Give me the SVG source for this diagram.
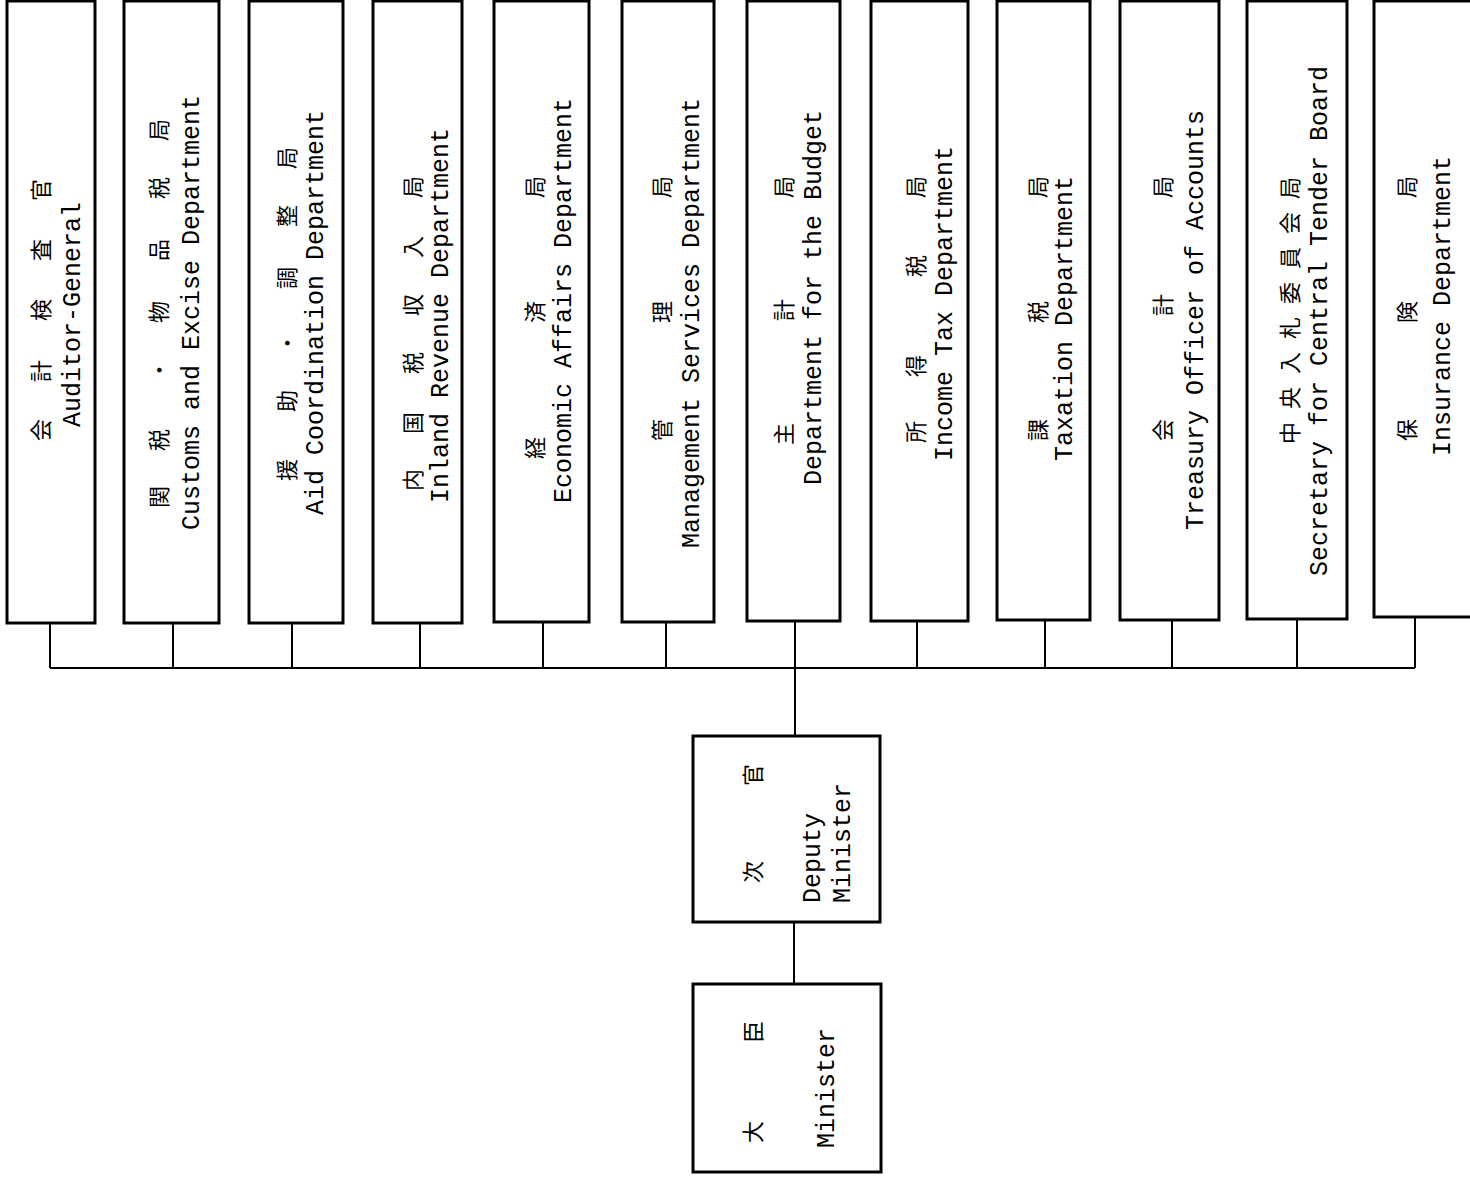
<svg xmlns="http://www.w3.org/2000/svg" width="1470" height="1179" viewBox="0 0 1470 1179">
<style>
.box{fill:#fff;stroke:#000;stroke-width:3}
.con{fill:none;stroke:#000;stroke-width:2}
.jp{font-family:"Noto Sans CJK JP","Noto Sans CJK SC",sans-serif;font-size:22px;text-anchor:middle;dominant-baseline:central;fill:#000}
.en{font-family:"Liberation Mono","DejaVu Sans Mono",monospace;font-size:25px;fill:#000}
</style>
<rect x="0" y="0" width="1470" height="1179" fill="#fff"/>
<g id="connectors">
<path class="con" d="M50 623V668M173 623V668M292 622V668M420 622V668M543 621V668M666 621V668M917 620V668M1045 619V668M1172 619V668M1297 618V668M1415 617V668M50 668H1415M795 620V736M794 922V984"/>
</g>
<g id="n1">
<rect class="box" x="7" y="1" width="88" height="622"/>
<text class="jp" transform="rotate(-90)" x="-430 -371 -310 -250 -190" y="39">会計検査官</text>
<text class="en" transform="rotate(-90)" x="-427" y="80">Auditor-General</text>
</g>
<g id="n2">
<rect class="box" x="124" y="1" width="95" height="622"/>
<text class="jp" transform="rotate(-90)" x="-497 -440 -370 -312 -250 -188 -130" y="157">関税・物品税局</text>
<text class="en" transform="rotate(-90)" x="-530" y="199">Customs and Excise Department</text>
</g>
<g id="n3">
<rect class="box" x="249" y="1" width="94" height="622"/>
<text class="jp" transform="rotate(-90)" x="-470 -401 -343 -278 -216 -158" y="285">援助・調整局</text>
<text class="en" transform="rotate(-90)" x="-515" y="323">Aid Coordination Department</text>
</g>
<g id="n4">
<rect class="box" x="373" y="1" width="89" height="622"/>
<text class="jp" transform="rotate(-90)" x="-480 -423 -363 -305 -247 -187" y="411">内国税収入局</text>
<text class="en" transform="rotate(-90)" x="-503" y="448">Inland Revenue Department</text>
</g>
<g id="n5">
<rect class="box" x="494" y="1" width="95" height="621"/>
<text class="jp" transform="rotate(-90)" x="-448 -312 -187" y="533">経済局</text>
<text class="en" transform="rotate(-90)" x="-503" y="571">Economic Affairs Department</text>
</g>
<g id="n6">
<rect class="box" x="622" y="1" width="92" height="621"/>
<text class="jp" transform="rotate(-90)" x="-430 -312 -187" y="660">管理局</text>
<text class="en" transform="rotate(-90)" x="-548" y="699">Management Services Department</text>
</g>
<g id="n7">
<rect class="box" x="747" y="1" width="93" height="620"/>
<text class="jp" transform="rotate(-90)" x="-434 -310 -187" y="782">主計局</text>
<text class="en" transform="rotate(-90)" x="-485" y="821">Department for the Budget</text>
</g>
<g id="n8">
<rect class="box" x="871" y="1" width="97" height="620"/>
<text class="jp" transform="rotate(-90)" x="-432 -366 -266 -187" y="914">所得税局</text>
<text class="en" transform="rotate(-90)" x="-461" y="952">Income Tax Department</text>
</g>
<g id="n9">
<rect class="box" x="997" y="1" width="93" height="619"/>
<text class="jp" transform="rotate(-90)" x="-430 -312 -187" y="1036">課税局</text>
<text class="en" transform="rotate(-90)" x="-461" y="1072">Taxation Department</text>
</g>
<g id="n10">
<rect class="box" x="1120" y="1" width="99" height="619"/>
<text class="jp" transform="rotate(-90)" x="-430 -305 -187" y="1161">会計局</text>
<text class="en" transform="rotate(-90)" x="-530" y="1203">Treasury Officer of Accounts</text>
</g>
<g id="n11">
<rect class="box" x="1247" y="1" width="100" height="618"/>
<text class="jp" transform="rotate(-90)" x="-433 -398 -363 -328 -293 -258 -223 -188" y="1288">中央入札委員会局</text>
<text class="en" transform="rotate(-90)" x="-576" y="1327">Secretary for Central Tender Board</text>
</g>
<g id="n12">
<rect class="box" x="1374" y="1" width="110" height="616"/>
<text class="jp" transform="rotate(-90)" x="-430 -312 -187" y="1405">保険局</text>
<text class="en" transform="rotate(-90)" x="-456" y="1450">Insurance Department</text>
</g>
<g id="deputy">
<rect class="box" x="693" y="736" width="187" height="186"/>
<text class="jp" transform="rotate(-90)" x="-872 -775" y="751">次官</text>
<text class="en" transform="rotate(-90)" x="-903" y="820">Deputy</text>
<text class="en" transform="rotate(-90)" x="-903" y="850">Minister</text>
</g>
<g id="minister">
<rect class="box" x="693" y="984" width="188" height="188"/>
<text class="jp" transform="rotate(-90)" x="-1132 -1032" y="751">大臣</text>
<text class="en" transform="rotate(-90)" x="-1148" y="834">Minister</text>
</g>
</svg>
